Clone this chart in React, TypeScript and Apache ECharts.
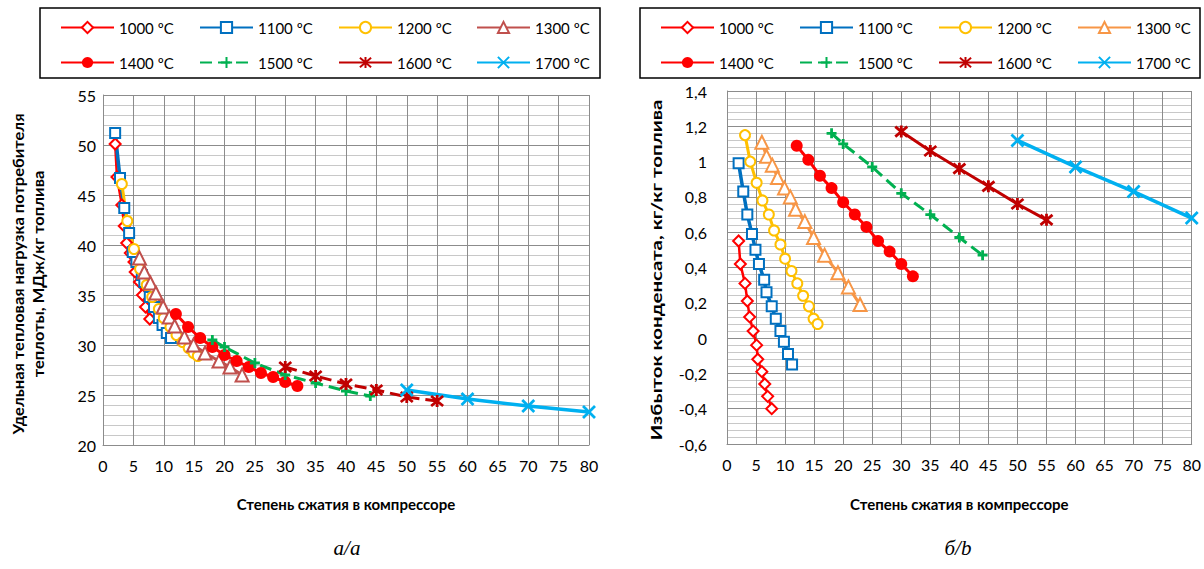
import React, { useEffect, useRef } from 'react';
import * as echarts from 'echarts';

// ---------- DATA ----------
const NAMES = ['1000 ºC', '1100 ºC', '1200 ºC', '1300 ºC', '1400 ºC', '1500 ºC', '1600 ºC', '1700 ºC'];
const X_TICKS_MAX = 80;

// pressure ratio (x) for each temperature
const X1000 = [2.0, 2.3, 3.1, 3.5, 3.9, 4.5, 5.1, 5.3, 6.0, 6.5, 7.0, 7.7];
const X1100 = [2.0, 2.8, 3.5, 4.3, 4.9, 5.5, 6.4, 6.8, 7.7, 8.4, 9.2, 9.8, 10.5, 11.2];
const X1200 = [3.1, 4.0, 5.1, 6.1, 7.2, 8.1, 9.2, 10.0, 11.1, 12.1, 13.1, 14.1, 14.9, 15.6];
const X1300 = [6.0, 6.8, 7.8, 8.7, 9.9, 10.9, 11.8, 13.4, 14.9, 16.8, 19.1, 20.9, 22.9];
const X1400 = [12, 14, 16, 18, 20, 22, 24, 26, 28, 30, 32];
const X1500 = [18, 20, 25, 30, 35, 40, 44];
const X1600 = [30, 35, 40, 45, 50, 55];
const X1700 = [50, 60, 70, 80];

// (a) specific heat load, MJ/kg fuel
const Q1000 = [50.1, 46.8, 44.0, 41.9, 40.2, 39.2, 38.3, 37.3, 36.3, 35.0, 33.8, 32.6];
const Q1100 = [51.2, 46.7, 43.7, 41.2, 39.3, 38.3, 37.0, 36.3, 34.8, 33.8, 32.7, 32.0, 31.2, 30.7];
const Q1200 = [46.1, 42.4, 39.6, 37.6, 36.0, 34.8, 33.6, 32.7, 31.8, 31.0, 30.3, 29.7, 29.2, 28.9];
const Q1300 = [38.7, 37.3, 36.2, 35.2, 33.8, 32.8, 31.9, 30.8, 30.0, 29.2, 28.4, 27.8, 27.0];
const Q1400 = [33.1, 31.8, 30.7, 29.8, 29.0, 28.4, 27.8, 27.2, 26.8, 26.3, 25.9];
const Q1500 = [30.5, 29.8, 28.2, 27.0, 26.2, 25.4, 24.9];
const Q1600 = [27.8, 26.9, 26.1, 25.5, 24.8, 24.4];
const Q1700 = [25.5, 24.6, 23.9, 23.3];

// (b) condensate excess, kg/kg fuel
const W1000 = [0.55, 0.42, 0.31, 0.21, 0.12, 0.04, -0.04, -0.12, -0.19, -0.26, -0.33, -0.40];
const W1100 = [0.99, 0.83, 0.70, 0.59, 0.50, 0.42, 0.33, 0.26, 0.18, 0.11, 0.04, -0.02, -0.09, -0.15];
const W1200 = [1.15, 1.00, 0.88, 0.78, 0.70, 0.61, 0.53, 0.45, 0.38, 0.31, 0.24, 0.18, 0.11, 0.08];
const W1300 = [1.11, 1.03, 0.98, 0.91, 0.85, 0.80, 0.73, 0.66, 0.57, 0.47, 0.37, 0.29, 0.19];
const W1400 = [1.09, 1.01, 0.92, 0.85, 0.77, 0.70, 0.63, 0.55, 0.49, 0.42, 0.35];
const W1500 = [1.16, 1.10, 0.97, 0.82, 0.70, 0.57, 0.47];
const W1600 = [1.17, 1.06, 0.96, 0.86, 0.76, 0.67];
const W1700 = [1.12, 0.97, 0.83, 0.68];

const XS = [X1000, X1100, X1200, X1300, X1400, X1500, X1600, X1700];
const QS = [Q1000, Q1100, Q1200, Q1300, Q1400, Q1500, Q1600, Q1700];
const WS = [W1000, W1100, W1200, W1300, W1400, W1500, W1600, W1700];

const X_NAME = 'Степень сжатия в компрессоре';
const Y_NAME_A = 'Удельная тепловая нагрузка потребителя\nтеплоты, МДж/кг топлива';
const Y_NAME_B = 'Избыток конденсата, кг/кг топлива';
const CAPTION_A = 'а/a';
const CAPTION_B = 'б/b';

// ---------- STYLE ----------
const FONT = 'Lato, "Noto Sans", sans-serif';
const PLUS = 'path://M5,0L5,10M0,5L10,5';
const STAR = 'path://M0,0L10,10M10,0L0,10M5,-1L5,11';
const CROSS = 'path://M0,0L10,10M10,0L0,10';

const SYMBOLS = ['emptyDiamond', 'emptyRect', 'emptyCircle', 'emptyTriangle', 'circle', PLUS, STAR, CROSS];
const SIZES = [11, 10, 10, 13, 12, 10, 12, 12];
const WIDTHS = [2.5, 3.5, 3, 3, 3, 3, 3, 3.5];
const BORDERS = [2.2, 2.5, 2.2, 2.2, 0, 2.8, 2.8, 2.8];
const COLORS_A = ['#FF0000', '#0070C0', '#FFC000', '#C0504D', '#FF0000', '#00B050', '#C00000', '#00B0F0'];
const COLORS_B = ['#FF0000', '#0070C0', '#FFC000', '#F79646', '#FF0000', '#00B050', '#C00000', '#00B0F0'];
const DASH_A = [false, false, false, false, false, true, true, false];
const DASH_B = [false, false, false, false, false, true, false, false];
const LEGEND_DASH = [false, false, false, false, false, true, false, false];

function makeOption(cfg: any) {
  const series = NAMES.map((name, i) => ({
    name,
    type: 'line',
    data: XS[i].map((x, j) => [x, cfg.ys[i][j]]),
    symbol: SYMBOLS[i],
    symbolSize: SIZES[i],
    showSymbol: true,
    color: cfg.colors[i],
    lineStyle: { color: cfg.colors[i], width: WIDTHS[i], type: cfg.dash[i] ? [12, 6] : 'solid' },
    itemStyle: { color: cfg.colors[i], borderColor: cfg.colors[i], borderWidth: BORDERS[i] },
    emphasis: { disabled: true },
  }));
  const legends = NAMES.map((n, i) => ({
    data: [n],
    left: cfg.legendX[i % 4],
    top: cfg.legendY[Math.floor(i / 4)],
    itemWidth: 53,
    itemHeight: 14,
    padding: 0,
    selectedMode: false,
    lineStyle: { type: LEGEND_DASH[i] ? [12, 6] : 'solid' },
    textStyle: { fontFamily: FONT, fontSize: 15, color: '#000' },
  }));
  return {
    animation: false,
    legend: legends,
    grid: cfg.grid,
    xAxis: {
      type: 'value',
      min: 0,
      max: X_TICKS_MAX,
      interval: 5,
      name: X_NAME,
      nameLocation: 'middle',
      nameGap: cfg.xNameGap,
      nameTextStyle: { fontFamily: FONT, fontSize: 15, fontWeight: 'bold', color: '#000' },
      axisLine: { show: true, onZero: false, lineStyle: { color: '#8c8c8c', width: 1 } },
      axisTick: { show: false },
      axisLabel: { fontFamily: FONT, fontSize: 16, color: '#000', margin: 12 },
      splitLine: { show: true, lineStyle: { color: '#8c8c8c', width: 1 } },
    },
    yAxis: {
      type: 'value',
      min: cfg.yMin,
      max: cfg.yMax,
      interval: cfg.yInterval,
      axisLine: { show: true, onZero: false, lineStyle: { color: '#8c8c8c', width: 1 } },
      axisTick: { show: false },
      axisLabel: { fontFamily: FONT, fontSize: 16, color: '#000', margin: cfg.yLabelMargin, formatter: cfg.yFormatter },
      splitLine: { show: true, lineStyle: { color: '#8c8c8c', width: 1 } },
      minorTick: { show: false, splitNumber: 5 },
      minorSplitLine: { show: true, lineStyle: { color: '#c8c8c8', width: 1 } },
    },
    graphic: [
      {
        type: 'rect',
        shape: { x: cfg.box[0], y: cfg.box[1], width: cfg.box[2], height: cfg.box[3] },
        style: { fill: 'none', stroke: '#000', lineWidth: 1.5 },
        silent: true,
      },
      {
        type: 'text',
        x: cfg.yName[0],
        y: cfg.yName[1],
        rotation: Math.PI / 2,
        scaleX: cfg.yNameScale,
        style: {
          text: cfg.yNameText,
          font: `bold ${cfg.yNameSize}px ${FONT}`,
          fill: '#000',
          align: 'center',
          verticalAlign: 'middle',
          lineHeight: 20,
        },
      },
      {
        type: 'text',
        x: cfg.caption[0],
        y: cfg.caption[1],
        style: {
          text: cfg.captionText,
          font: 'italic 21px "Liberation Serif", "DejaVu Serif", serif',
          fill: '#000',
          align: 'center',
          verticalAlign: 'middle',
        },
      },
    ],
    series,
  };
}

const OPT_A = {
  ys: QS,
  colors: COLORS_A,
  dash: DASH_A,
  legendX: [60, 199, 338, 476],
  legendY: [20, 55],
  box: [40, 8, 560, 70],
  grid: { left: 103, width: 486, top: 95, height: 350 },
  xNameGap: 51,
  yMin: 20,
  yMax: 55,
  yInterval: 5,
  yLabelMargin: 7,
  yFormatter: (v: number) => String(Math.round(v)),
  yName: [28, 274],
  yNameText: Y_NAME_A,
  yNameSize: 15,
  yNameScale: 1.1,
  caption: [347, 548],
  captionText: CAPTION_A,
};

const OPT_B = {
  ys: WS,
  colors: COLORS_B,
  dash: DASH_B,
  legendX: [58, 197, 336, 475],
  legendY: [20, 55],
  box: [38, 8, 560, 70],
  grid: { left: 125, width: 465, top: 91, height: 353 },
  xNameGap: 52,
  yMin: -0.6,
  yMax: 1.4,
  yInterval: 0.2,
  yLabelMargin: 20,
  yFormatter: (v: number) => String(Math.round(v * 10) / 10).replace('.', ','),
  yName: [54, 270],
  yNameText: Y_NAME_B,
  yNameSize: 16,
  yNameScale: 1.28,
  caption: [356, 548],
  captionText: CAPTION_B,
};

function Panel({ cfg }: { cfg: any }) {
  const ref = useRef<HTMLDivElement>(null);
  useEffect(() => {
    if (!ref.current) return;
    const chart = echarts.init(ref.current, undefined, { renderer: 'svg' });
    chart.setOption(makeOption(cfg));
    return () => chart.dispose();
  }, [cfg]);
  return <div ref={ref} style={{ width: 602, height: 569 }} />;
}

export default function App() {
  return (
    <div style={{ position: 'fixed', left: 0, top: 0, width: 1204, height: 569, display: 'flex', background: '#fff' }}>
      <Panel cfg={OPT_A} />
      <Panel cfg={OPT_B} />
    </div>
  );
}
